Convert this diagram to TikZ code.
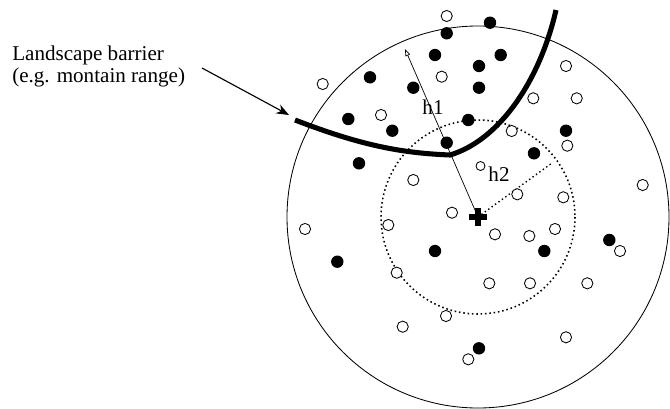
\documentclass[tikz,border=0pt]{standalone}
\usepackage{fontspec}
\setmainfont{Liberation Serif}
\usetikzlibrary{arrows.meta}

\begin{document}
\begin{tikzpicture}[x=0.025cm, y=-0.025cm,
  fulldot/.style={fill=black},
  opendot/.style={draw=black, fill=white, line width=0.6pt},
  barrier/.style={line width=3.6pt},
  lbl/.style={font=\fontsize{15}{15}\selectfont, inner sep=0pt}]
\useasboundingbox (0,0) rectangle (670,408);
% neighbourhoods round the centre
\coordinate (c) at (478,217);
\draw[line width=0.6pt] (c) circle[radius=191];
\draw[dotted, line width=1.1pt] (c) circle[radius=97];
% radii
\coordinate (h1end) at (405,49);
\coordinate (h2end) at (552,163);
\draw[line width=0.5pt, -{Triangle[open, length=5pt, width=3.5pt]}] (c) -- (h1end);
\draw[dotted, line width=1pt] (c) -- (h2end);
% sampled points
\foreach \x/\y in {490/22.7, 446.7/33.3, 435/55, 500.7/55, 479/66, 370/77.3, 413.3/87.7,
  479/87.7, 348.3/119, 392.3/130.7, 468.3/120, 566/130.7, 446.7/142.7, 534/153.3,
  359/163.3, 435/251, 544.3/251, 609.3/240, 337.3/261.7, 479/348.3}
  \fill[fulldot] (\x,\y) circle[radius=6.2];
\foreach \x/\y in {446.7/16, 441.7/76.7, 322.7/84, 566/66, 533.3/98.3, 576.7/98.3, 381/115,
  511.7/131, 567.3/145.7, 413.3/180, 642.7/185, 517.3/194.3, 563.3/197.3, 452/212.7,
  305/229, 388.3/225, 495/234.3, 529.3/236, 555/229, 620/251, 396.7/272.7, 489.3/283.3,
  530/283.3, 587.3/283.3, 446/316, 402.7/326.7, 566/337.3, 468.3/359.3}
  \draw[opendot] (\x,\y) circle[radius=5.6];
\draw[opendot] (480.5,166) circle[radius=4.5];
% barrier
\coordinate (bstart) at (295,120);
\coordinate (bjoint) at (450,155);
\coordinate (bend) at (556,10);
\draw[barrier] (bstart) .. controls (360,145) and (400,153) .. (bjoint)
  .. controls (500,140) and (540,80) .. (bend);
% centre
\draw[line width=4.5pt] (c) +(-9,0) -- +(9,0) (c) +(0,-9) -- +(0,9);
% labels
\node[lbl] (h1lbl) at (433,107) {h1};
\node[lbl] (h2lbl) at (499,174) {h2};
\node[lbl, align=left, anchor=north west] (note) at (12,46) {Landscape barrier\\(e.g. montain range)};
\coordinate (ntail) at (202,68);
\coordinate (ntip) at (289,115);
\draw[line width=0.8pt, -{Stealth[length=9pt, width=7pt]}] (ntail) -- (ntip);
\end{tikzpicture}
\end{document}
